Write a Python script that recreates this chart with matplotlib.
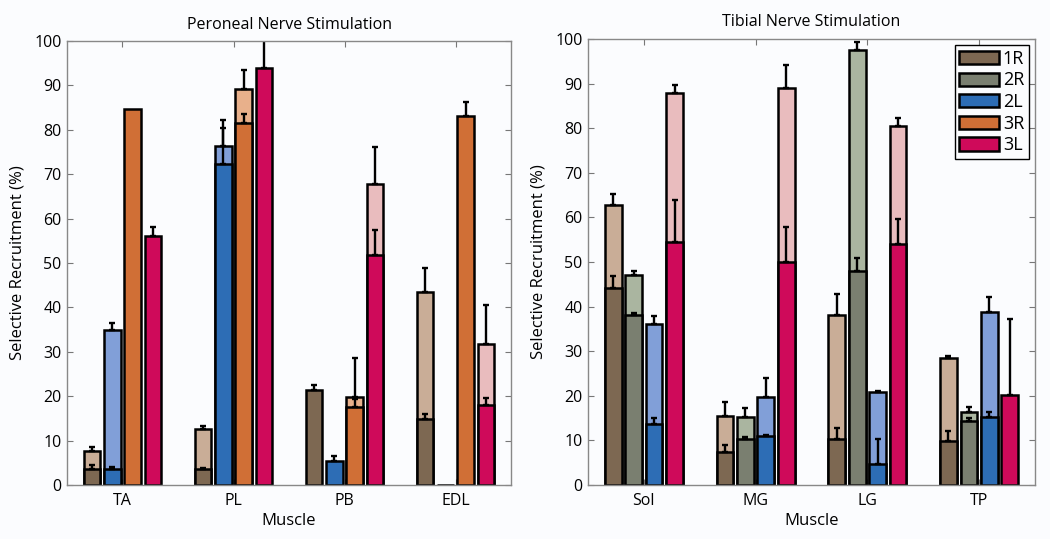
import numpy as np
import matplotlib
matplotlib.use("Agg")
import matplotlib.pyplot as plt
from matplotlib.patches import Patch

plt.rcParams['font.family'] = ['Open Sans', 'DejaVu Sans']

# ---------------- data ----------------
legend_labels = ['1R', '2R', '2L', '3R', '3L']

# Peroneal: series 1R, 2L, 3R, 3L
per_muscles = ['TA', 'PL', 'PB', 'EDL']
per_series = ['1R', '2L', '3R', '3L']
per_total = {
    '1R': [7.6, 12.6, np.nan, 43.5],
    '2L': [34.9, 76.3, np.nan, np.nan],
    '3R': [np.nan, 89.1, 19.8, np.nan],
    '3L': [np.nan, np.nan, 67.9, 31.8],
}
per_total_err = {
    '1R': [0.9, 0.6, 0, 5.4],
    '2L': [1.6, 6.0, 0, 0],
    '3R': [0, 4.4, 8.7, 0],
    '3L': [0, 0, 8.2, 8.7],
}
per_part = {
    '1R': [3.6, 3.6, 21.4, 14.9],
    '2L': [3.6, 72.4, 5.4, 0.0],
    '3R': [84.8, 81.5, 17.5, 83.0],
    '3L': [56.1, 94.0, 51.8, 18.1],
}
per_part_err = {
    '1R': [1.0, 0.3, 1.1, 1.1],
    '2L': [0.5, 8.1, 1.1, 0.0],
    '3R': [0.0, 2.0, 1.9, 3.2],
    '3L': [2.0, 8.0, 5.6, 1.4],
}

# Tibial: series 1R, 2R, 2L, 3L
tib_muscles = ['Sol', 'MG', 'LG', 'TP']
tib_series = ['1R', '2R', '2L', '3L']
tib_total = {
    '1R': [62.8, 15.5, 38.1, 28.4],
    '2R': [47.1, 15.2, 97.5, 16.3],
    '2L': [36.1, 19.8, 20.8, 38.8],
    '3L': [87.9, 89.0, 80.5, np.nan],
}
tib_total_err = {
    '1R': [2.4, 3.2, 4.8, 0.5],
    '2R': [0.8, 2.1, 1.8, 1.2],
    '2L': [1.8, 4.2, 0.2, 3.4],
    '3L': [1.7, 5.2, 1.7, 0],
}
tib_part = {
    '1R': [44.2, 7.5, 10.2, 9.9],
    '2R': [38.1, 10.2, 48.0, 14.4],
    '2L': [13.7, 10.9, 4.7, 15.2],
    '3L': [54.4, 49.9, 54.1, 20.1],
}
tib_part_err = {
    '1R': [2.6, 1.5, 2.6, 2.2],
    '2R': [0.4, 0.5, 2.8, 0.6],
    '2L': [1.4, 0.2, 5.6, 1.2],
    '3L': [9.6, 8.0, 5.6, 17.2],
}

dark_colors = {'1R': '#7d6852', '2R': '#7a7f70', '2L': '#2d6db5',
               '3R': '#d06f36', '3L': '#cf0a5a'}
light_colors = {'1R': '#c9ad97', '2R': '#aab5a0', '2L': '#819fd8',
                '3R': '#e8b08b', '3L': '#e9bcbe'}

BG = '#fbfcfe'
fig = plt.figure(figsize=(10.5, 5.39), dpi=100, facecolor=BG)

ax1 = fig.add_axes([0.0638, 0.1002, 0.4229, 0.8237])
ax2 = fig.add_axes([0.560, 0.1002, 0.4257, 0.8275])

width = 0.15
step = 0.183


def draw(ax, muscles, series, total, total_err, part, part_err, title):
    ax.set_facecolor(BG)
    x = np.arange(1, len(muscles) + 1)
    n = len(series)
    for i, s in enumerate(series):
        xs = x + (i - (n - 1) / 2) * step
        t = np.array(total[s], dtype=float)
        te = np.array(total_err[s], dtype=float)
        p = np.array(part[s], dtype=float)
        pe = np.array(part_err[s], dtype=float)
        m = ~np.isnan(t)
        ax.bar(xs[m], t[m], width=width, color=light_colors[s],
               edgecolor='black', linewidth=1.8, zorder=2)
        ax.errorbar(xs[m], t[m], yerr=[np.zeros(m.sum()), te[m]], fmt='none',
                    ecolor='black', elinewidth=1.7, capsize=2.2, capthick=1.7,
                    zorder=3, clip_on=True)
        ax.bar(xs, p, width=width, color=dark_colors[s],
               edgecolor='black', linewidth=1.8, zorder=4)
        me = pe > 0
        ax.errorbar(xs[me], p[me], yerr=[np.zeros(me.sum()), pe[me]], fmt='none',
                    ecolor='black', elinewidth=1.7, capsize=2.2, capthick=1.7,
                    zorder=5, clip_on=True)
    ax.set_xlim(0.5, len(muscles) + 0.5)
    ax.set_ylim(0, 100)
    ax.set_yticks(np.arange(0, 101, 10))
    ax.set_xticks(x)
    ax.set_xticklabels(muscles)
    ax.tick_params(direction='in', top=True, right=True, labelsize=11.5,
                   color='#777777', length=4, width=0.8, pad=4)
    ax.tick_params(axis='x', pad=6)
    for sp in ax.spines.values():
        sp.set_color('#888888')
        sp.set_linewidth(1.0)
        sp.set_zorder(6)
    ax.set_xlabel('Muscle', fontsize=12, labelpad=3)
    ax.set_ylabel('Selective Recruitment (%)', fontsize=12, labelpad=6)
    ax.set_title(title, fontsize=11.5, pad=9)


draw(ax1, per_muscles, per_series, per_total, per_total_err, per_part,
     per_part_err, 'Peroneal Nerve Stimulation')
draw(ax2, tib_muscles, tib_series, tib_total, tib_total_err, tib_part,
     tib_part_err, 'Tibial Nerve Stimulation')

handles = [Patch(facecolor=dark_colors[s], edgecolor='black', linewidth=1.8)
           for s in legend_labels]
leg = ax2.legend(handles, legend_labels, loc='upper right', fontsize=13,
                 handlelength=2.2, handleheight=0.75, labelspacing=0.2,
                 handletextpad=0.2, borderpad=0.25, borderaxespad=0.35,
                 frameon=True, fancybox=False, framealpha=1)
leg.get_frame().set_edgecolor('black')
leg.get_frame().set_linewidth(1.0)
leg.get_frame().set_facecolor(BG)
leg.set_zorder(10)

fig.savefig('out.png', dpi=100, facecolor=BG)
